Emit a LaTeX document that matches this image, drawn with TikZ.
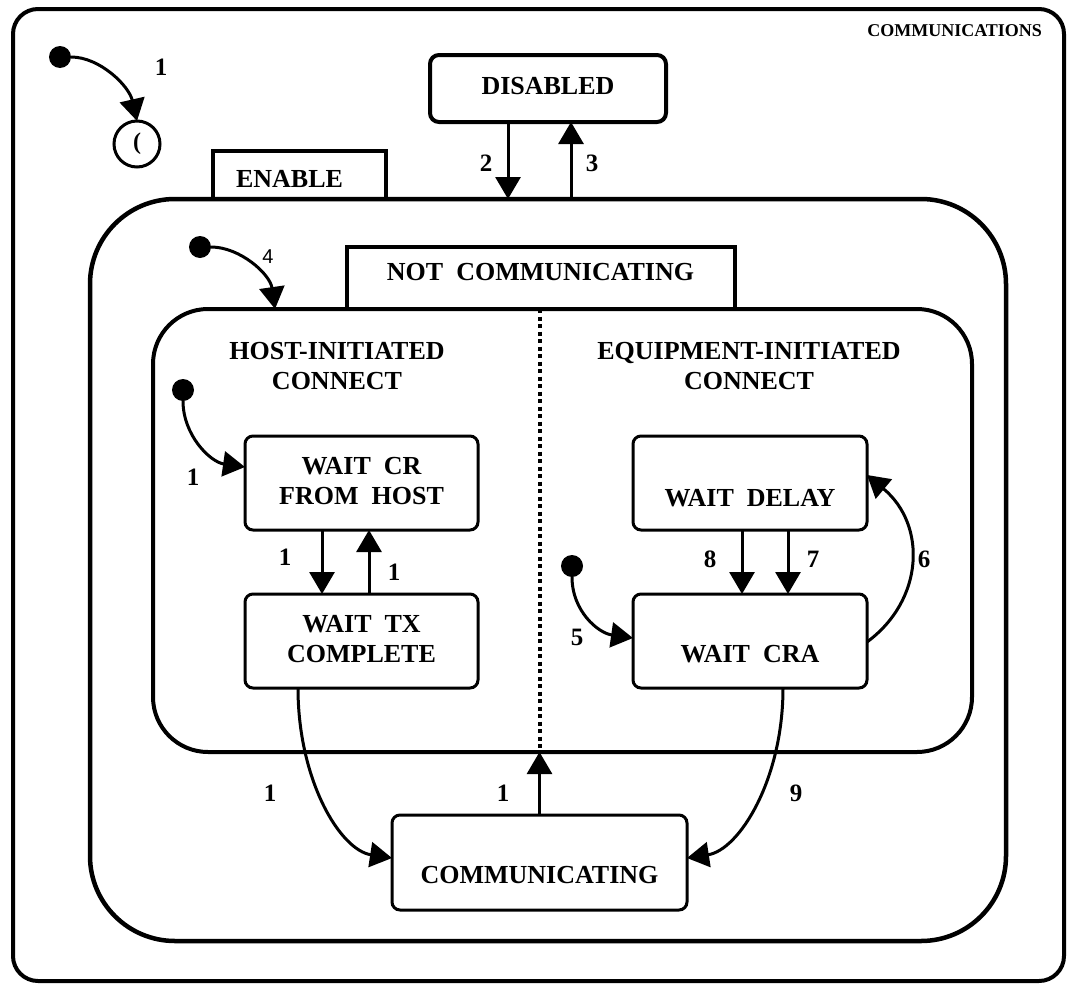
\documentclass[tikz,border=0pt]{standalone}
\usepackage{fontspec}
\setmainfont{Liberation Serif}
\setsansfont{Liberation Sans}
\usetikzlibrary{arrows.meta}

\begin{document}
\begin{tikzpicture}[x=1pt,y=-1pt,
  every node/.style={inner sep=0pt, outer sep=0pt},
  bigtext/.style={font=\bfseries\fontsize{26}{30}\selectfont, align=center},
  smalltext/.style={font=\bfseries\fontsize{18}{21}\selectfont},
  numtext/.style={font=\bfseries\fontsize{25}{30}\selectfont},
  statebox/.style={draw, line width=3pt, rounded corners=8pt},
  container/.style={draw, line width=4pt},
  tabbox/.style={draw, line width=4.5pt, fill=white},
  transarrow/.style={line width=3pt, -{Triangle[length=22pt,width=25pt]}},
  initdot/.style={circle, fill=black, minimum size=22pt},
  divider/.style={line width=4pt, dash pattern=on 4pt off 3.5pt},
]
\useasboundingbox (0,0) rectangle (1068,985);

% top-level superstate
\node[container, rounded corners=25pt, minimum width=1051pt, minimum height=972pt] (comms) at (538.5,495) {};
\node[smalltext, anchor=east] (commslbl) at (1042,31) {COMMUNICATIONS};

% initial state and history
\node[initdot] (i0) at (60,57) {};
\node[draw, circle, line width=3pt, minimum size=46pt, font=\bfseries\fontsize{24}{24}\selectfont] (hist) at (137,144) {(};
\draw[transarrow] (i0) .. controls +(40,0) and +(-8,-35) .. (hist.north);
\node[numtext] (l1a) at (161,67) {1};

% DISABLED
\node[statebox, line width=4pt, rounded corners=9pt, minimum width=236pt, minimum height=67pt] (dis) at (548,88.5) {};
\node[bigtext] (distxt) at (548,86) {DISABLED};

% ENABLED superstate
\node[tabbox, minimum width=173pt, minimum height=48pt] (entab) at (299.5,175) {};
\node[bigtext] (entxt) at (289.5,178.5) {ENABLE};
\node[container, line width=4.5pt, rounded corners=85pt, minimum width=916pt, minimum height=742pt] (enable) at (548,570) {};

\coordinate (a2) at ([xshift=-40pt]dis.south);
\coordinate (a3) at ([xshift=23pt]dis.south);
\draw[transarrow] (a2) -- (a2 |- enable.north);
\draw[transarrow] (a3 |- enable.north) -- (a3);
\node[numtext] (l2) at (486,163) {2};
\node[numtext] (l3) at (592,163) {3};

% NOT COMMUNICATING superstate
\node[container, rounded corners=55pt, minimum width=819pt, minimum height=443pt] (inner) at (562.5,530.5) {};
\node[tabbox, minimum width=388pt, minimum height=62pt] (nctab) at (541,278) {};
\node[bigtext] (nctxt) at (540.5,272) {NOT\ \ COMMUNICATING};

\node[initdot] (i3) at (200,247) {};
\draw[transarrow] (i3) .. controls +(40,0) and +(-5,-35) .. ([xshift=122pt]inner.north west);
\node[font=\sffamily\fontsize{20}{23}\selectfont] (l4) at (268,257) {4};

% region headings
\node[bigtext] (hostlbl) at (337,366) {HOST-INITIATED\\CONNECT};
\node[bigtext] (equiplbl) at (749,366) {EQUIPMENT-INITIATED\\CONNECT};

% host-initiated states
\node[statebox, minimum width=233pt, minimum height=94pt] (wcr) at (361.5,483) {};
\node[bigtext] (wcrtxt) at (361.5,481) {WAIT\ \ CR\\FROM\ \ HOST};
\node[statebox, minimum width=233pt, minimum height=94pt] (wtx) at (361.5,641) {};
\node[bigtext] (wtxtxt) at (361.5,639) {WAIT\ \ TX\\COMPLETE};

\node[initdot] (i1) at (183,390) {};
\draw[transarrow] (i1) .. controls +(0,45) and +(-35,-5) .. ([yshift=16pt]wcr.west);
\node[numtext] (l1b) at (193,477) {1};

\coordinate (h1) at ([xshift=-39.5pt]wcr.south);
\coordinate (h2) at ([xshift=7.5pt]wtx.north);
\draw[transarrow] (h1) -- (h1 |- wtx.north);
\draw[transarrow] (h2) -- (h2 |- wcr.south);
\node[numtext] (l1c) at (285,557) {1};
\node[numtext] (l1d) at (394,572) {1};

% equipment-initiated states
\node[statebox, minimum width=234pt, minimum height=94pt] (wd) at (750,483) {};
\node[bigtext] (wdtxt) at (750,498) {WAIT\ \ DELAY};
\node[statebox, minimum width=234pt, minimum height=94pt] (wcra) at (750,641) {};
\node[bigtext] (wcratxt) at (750,654) {WAIT\ \ CRA};

\coordinate (e1) at ([xshift=-8pt]wd.south);
\coordinate (e2) at ([xshift=38pt]wd.south);
\draw[transarrow] (e1) -- (e1 |- wcra.north);
\draw[transarrow] (e2) -- (e2 |- wcra.north);
\node[numtext] (l8) at (710,559) {8};
\node[numtext] (l7) at (813,559) {7};

\draw[transarrow] ([yshift=-1pt]wcra.east) .. controls +(57,-42) and +(60,50) .. ([yshift=8pt]wd.east);
\node[numtext] (l6) at (924,559) {6};

\node[initdot] (i2) at (572,566) {};
\draw[transarrow] (i2) .. controls +(0,45) and +(-35,-5) .. ([yshift=3pt]wcra.west);
\node[numtext] (l5) at (577,637) {5};

% COMMUNICATING
\node[statebox, minimum width=295pt, minimum height=95pt] (comm) at (539.5,862.5) {};
\node[bigtext] (commtxt) at (539.5,875) {COMMUNICATING};

\draw[divider] (comm.north |- inner.north) -- (comm.north |- inner.south);
\draw[transarrow] (comm.north) -- (comm.north |- inner.south);
\node[numtext] (l1f) at (503,793) {1};

\draw[transarrow] ([xshift=-63.5pt]wtx.south) .. controls +(0,92) and +(-52,-8) .. ([yshift=4.5pt]comm.west);
\node[numtext] (l1e) at (270,793) {1};
\draw[transarrow] ([xshift=33pt]wcra.south) .. controls +(0,92) and +(52,-8) .. ([yshift=4.5pt]comm.east);
\node[numtext] (l9) at (796,793) {9};
\end{tikzpicture}
\end{document}
